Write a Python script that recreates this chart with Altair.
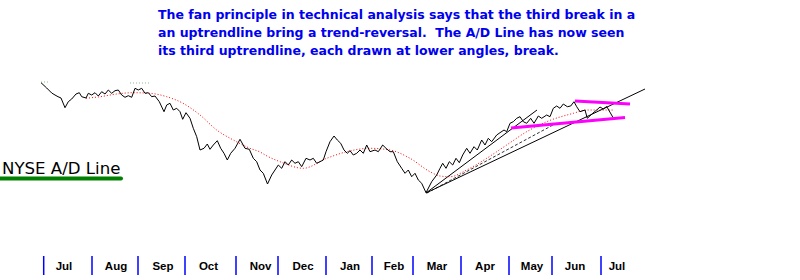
import altair as alt
import pandas as pd

# ---- A/D line (time index, level; level axis grows downward) ----
ad_t = [41, 46.7, 51.7, 55, 58, 61, 65, 68.3, 71.7, 76, 79.3, 81.7, 86, 88.3, 91.7, 95, 98.3,
        101.7, 105, 108.3, 111.7, 115, 118.3, 121.7, 125, 128.3, 131.7, 135, 138.3, 141.7, 145,
        148.3, 151.7, 155, 159.3, 164, 166.7, 170, 173.3, 176.7, 180, 182.7, 186, 190, 193.3,
        196.7, 200, 204, 207.3, 210, 213.3, 217.3, 220.7, 224, 227.3, 230.7, 235, 240, 245,
        249.3, 253.3, 256.7, 260, 263.3, 267.5, 271.7, 275, 278.3, 281.7, 285, 288.3, 291.7,
        295, 298.3, 301.7, 306, 310, 313.3, 316.7, 320, 323.3, 326, 330, 334, 337.3, 340.7,
        344, 347.3, 350, 353.3, 356.7, 360, 363.3, 366.7, 370, 375, 378.3, 382.7, 386, 390,
        393.3, 397.3, 401.7, 405, 408.3, 411.7, 415, 418.3, 421.7, 426, 431.7, 436.7, 440,
        442.7, 446, 449.3, 452.7, 456, 459.3, 462.7, 466.7, 470, 474, 477.3, 481.7, 485,
        488.3, 491.7, 496.7, 500, 504, 506.7, 510, 513.3, 516.7, 520, 523.3, 526.7, 530.7,
        534, 538.3, 541.7, 546.7, 550, 553.3, 556.7, 560, 563.3, 567.3, 570.7, 574, 576.7,
        580, 585, 587.3, 592.7, 596.7, 600, 603.3, 606.7, 611, 613]
ad_v = [82.7, 88, 93, 95, 96.7, 98, 107.7, 101.7, 99, 94, 92.7, 96.7, 98, 93.3, 95, 92.7, 96,
        91.7, 94, 90, 93.3, 90.7, 90, 95, 97.3, 95.7, 97.3, 88.3, 90, 88.3, 93.3,
        92.7, 96.7, 96, 101.7, 111.7, 105, 103.3, 110, 108.3, 111.7, 119.3, 112.7, 118.3, 128.3,
        136.7, 150, 148.3, 144, 149.3, 145, 140.7, 148.3, 153.3, 160, 153.3, 148.3, 139.3, 148.3,
        149.3, 158.3, 161.7, 170, 173.3, 184, 175, 170, 165, 168.3, 161.7, 165, 160,
        163.3, 161.7, 166.7, 158.3, 160, 158.3, 163.3, 161.7, 160, 151.7, 141.7, 136, 140, 143.3,
        150, 153.3, 150.7, 155, 153.3, 150, 153.3, 145, 151.7, 150, 151.7, 145, 148.3, 151.7,
        151.7, 161.7, 168.3, 173.3, 170, 176.7, 173.3, 180, 183.3, 192.7, 181.7, 175, 168.3,
        163.3, 168.3, 161.7, 165, 158.3, 162.7, 155, 148.3, 153.3, 146.7, 150, 140, 145,
        138.3, 141.7, 135, 132.7, 130, 131.7, 123.3, 121.7, 118.3, 116.7, 121.7, 123.3, 118.3,
        123.3, 116, 118.3, 115, 116.7, 108.3, 106, 108.3, 104, 106.7, 106, 101.7, 106.7,
        111.7, 110, 118.3, 113.3, 110, 107, 109, 106.5, 114, 117.5]

# ---- moving average (red dotted) ----
ma_t = [86, 100, 116.7, 133, 150, 166.7, 183, 200, 216.7, 233.3, 250, 260, 267, 280, 303.3,
        326.7, 346.7, 370, 390, 410, 430, 440, 450, 466.7, 486.7, 506.7, 526.7, 546.7, 573.3,
        586.7, 613.3]
ma_v = [98.3, 96.7, 94, 92.7, 93.3, 96.7, 103.3, 115, 130, 140, 148.3, 152, 156, 161.7, 168.3,
        158.3, 151.7, 148.3, 150, 158.3, 171.7, 176, 176.7, 170, 158.3, 145, 131.7, 121.7, 113.3,
        110, 110]

# ---- fan trendlines from the March low ----
fan_solid_t = [[426, 537], [426, 645]]
fan_solid_v = [[193, 110], [193, 89]]
fan_dash_t = [427, 553]
fan_dash_v = [193, 125]

# ---- magenta channel ----
chan_t = [[575, 630], [511, 625]]
chan_v = [[101, 104], [128, 117.5]]

# ---- faint dotted marks at old highs ----
faint_t = [[41, 48], [130, 149]]
faint_v = [[82, 82], [83, 83]]

# ---- month axis ----
months = ["Jul", "Aug", "Sep", "Oct", "Nov", "Dec", "Jan", "Feb", "Mar", "Apr", "May", "Jun", "Jul"]
month_ticks = [43.7, 92, 138, 185, 236, 278, 326, 372, 413, 461, 509, 552, 601]
month_label_t = [64, 116, 163, 208.5, 260.5, 303, 350, 394, 437, 485, 532, 575, 617]

title_lines = [
    "The fan principle in technical analysis says that the third break in a",
    "an uptrendline bring a trend-reversal.\u00a0 The A/D Line has now seen",
    "its third uptrendline, each drawn at lower angles, break.",
]
series_label = "NYSE A/D Line"

xs = alt.Scale(domain=[0, 800])
ys = alt.Scale(domain=[0, 280], reverse=True)


def X(f="t"):
    return alt.X(f"{f}:Q", scale=xs, axis=None)


def Y(f="v"):
    return alt.Y(f"{f}:Q", scale=ys, axis=None)


def segs(ts, vs):
    rows = []
    for i, (tt, vv) in enumerate(zip(ts, vs)):
        for a, b in zip(tt, vv):
            rows.append({"t": a, "v": b, "s": i})
    return pd.DataFrame(rows)


ad_df = pd.DataFrame({"t": ad_t, "v": ad_v, "o": range(len(ad_t))})
ma_df = pd.DataFrame({"t": ma_t, "v": ma_v, "o": range(len(ma_t))})

faint = alt.Chart(segs(faint_t, faint_v)).mark_line(
    color="#8fbc8f", strokeWidth=1, strokeDash=[1, 2]
).encode(x=X(), y=Y(), detail="s:N")

ma = alt.Chart(ma_df).mark_line(
    color="#ff0000", strokeWidth=1, strokeDash=[1, 2], interpolate="monotone"
).encode(x=X(), y=Y(), order="o:Q")

fan_solid = alt.Chart(segs(fan_solid_t, fan_solid_v)).mark_line(
    color="black", strokeWidth=1
).encode(x=X(), y=Y(), detail="s:N")

fan_dash = alt.Chart(segs([fan_dash_t], [fan_dash_v])).mark_line(
    color="#333333", strokeWidth=1, strokeDash=[3, 2]
).encode(x=X(), y=Y(), detail="s:N")

ad_line = alt.Chart(ad_df).mark_line(color="black", strokeWidth=1).encode(
    x=X(), y=Y(), order="o:Q"
)

chan = alt.Chart(segs(chan_t, chan_v)).mark_line(
    color="#ff00ff", strokeWidth=3
).encode(x=X(), y=Y(), detail="s:N")

tick_df = pd.DataFrame({"t": month_ticks, "v": [256] * len(month_ticks), "v2": [275] * len(month_ticks)})
ticks = alt.Chart(tick_df).mark_rule(color="#0000ff", strokeWidth=1.5).encode(
    x=X(), y=Y(), y2="v2:Q"
)

lab_df = pd.DataFrame({"t": month_label_t, "v": [267] * len(months), "m": months})
labels = alt.Chart(lab_df).mark_text(
    font="Liberation Sans", fontSize=11.5, fontWeight="bold", color="black",
    align="center", baseline="middle"
).encode(x=X(), y=Y(), text="m:N")

title_df = pd.DataFrame({"t": [158] * 3, "v": [19, 37, 55], "s": title_lines})
title = alt.Chart(title_df).mark_text(
    font="DejaVu Sans", fontSize=12.5, fontWeight="bold", color="#0000ee",
    align="left", baseline="alphabetic"
).encode(x=X(), y=Y(), text="s:N")

sl_df = pd.DataFrame({"t": [2], "v": [173.5], "s": [series_label]})
slabel = alt.Chart(sl_df).mark_text(
    font="DejaVu Sans", fontSize=16.6, color="black", align="left", baseline="alphabetic"
).encode(x=X(), y=Y(), text="s:N")

ul_df = pd.DataFrame({"t": [0, 121], "v": [178.5, 178.5]})
underline = alt.Chart(ul_df).mark_line(
    color="#007f00", strokeWidth=4, strokeCap="round"
).encode(x=X(), y=Y())

chart = alt.layer(
    faint, ma, fan_dash, fan_solid, ad_line, chan, ticks, labels, title, slabel, underline
).properties(
    width=800, height=280, autosize=alt.AutoSizeParams(type="none"), padding=0,
    background="white"
).configure_view(stroke=None)

chart.save("out.html", embed_options={"renderer": "svg", "actions": False})
